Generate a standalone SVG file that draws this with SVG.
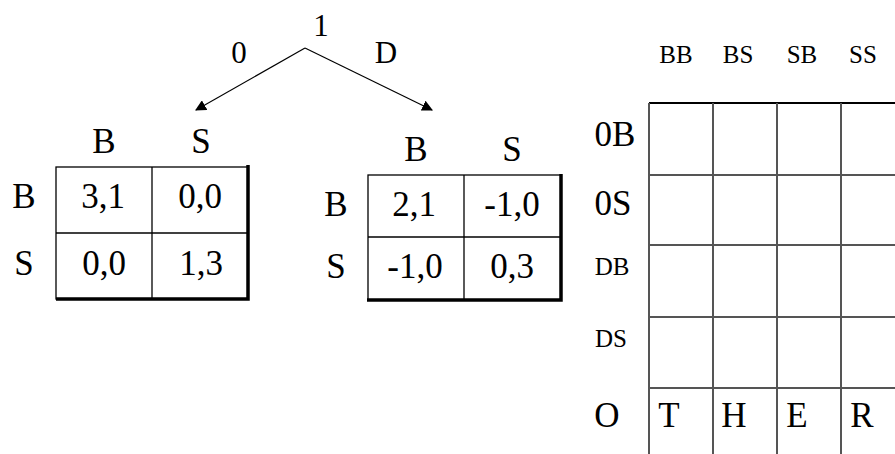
<svg xmlns="http://www.w3.org/2000/svg" width="895" height="454" viewBox="0 0 895 454" font-family="'Liberation Serif', 'Times New Roman', Times, serif">
  <defs>
    <marker id="tip" viewBox="0 0 10 10" refX="9" refY="5" markerWidth="11" markerHeight="11" markerUnits="userSpaceOnUse" orient="auto">
      <path d="M0,0 L10,5 L0,10 z" fill="#000"/>
    </marker>
  </defs>
  <style>
    .lbl { font-size: 31px; text-anchor: middle; }
    .big { font-size: 35px; text-anchor: middle; }
    .sm { font-size: 25px; text-anchor: middle; }
    .thin { fill: none; stroke: #000; stroke-width: 1.3; }
    .heavy { fill: none; stroke: #000; stroke-width: 3.5; }
    .grid { fill: none; stroke: #555; stroke-width: 2; }
    .edge { fill: none; stroke: #000; stroke-width: 1.2; }
  </style>
  <rect width="895" height="454" fill="#fff"/>

  <!-- game tree root and its branches -->
  <g id="root">
    <text class="lbl" x="321" y="36">1</text>
    <text class="lbl" x="239" y="63">0</text>
    <text class="lbl" x="386" y="63">D</text>
  </g>
  <g id="connectors">
    <line class="edge" x1="305" y1="48" x2="196" y2="110" marker-end="url(#tip)"/>
    <line class="edge" x1="305" y1="48" x2="432" y2="110" marker-end="url(#tip)"/>
  </g>

  <!-- payoff matrix after 0 -->
  <g id="matrix0">
    <text class="big" x="104" y="153">B</text>
    <text class="big" x="201" y="153">S</text>
    <text class="big" x="24" y="208">B</text>
    <text class="big" x="24" y="275">S</text>
    <rect class="thin" x="56" y="167" width="192" height="132"/>
    <line class="thin" x1="152" y1="167" x2="152" y2="299"/>
    <line class="thin" x1="56" y1="233" x2="248" y2="233"/>
    <polyline class="heavy" points="248,165 248,299 56,299"/>
    <text class="big" x="103" y="208">3,1</text>
    <text class="big" x="200" y="208">0,0</text>
    <text class="big" x="104" y="275">0,0</text>
    <text class="big" x="201" y="275">1,3</text>
  </g>

  <!-- payoff matrix after D -->
  <g id="matrixD">
    <text class="big" x="416" y="161">B</text>
    <text class="big" x="512" y="161">S</text>
    <text class="big" x="336" y="216">B</text>
    <text class="big" x="336" y="278">S</text>
    <rect class="thin" x="368" y="175" width="193" height="125"/>
    <line class="thin" x1="464" y1="175" x2="464" y2="300"/>
    <line class="thin" x1="368" y1="237" x2="561" y2="237"/>
    <polyline class="heavy" points="561,174 561,300 367,300"/>
    <text class="big" x="414" y="216">2,1</text>
    <text class="big" x="512" y="216">-1,0</text>
    <text class="big" x="415" y="278">-1,0</text>
    <text class="big" x="512" y="278">0,3</text>
  </g>

  <!-- strategic form grid -->
  <g id="strategy-grid">
    <text class="sm" x="676" y="63">BB</text>
    <text class="sm" x="738" y="63">BS</text>
    <text class="sm" x="802" y="63">SB</text>
    <text class="sm" x="863" y="63">SS</text>
    <line x1="649" y1="103" x2="895" y2="103" stroke="#000" stroke-width="2"/>
    <line class="grid" x1="649" y1="175" x2="895" y2="175"/>
    <line class="grid" x1="649" y1="245" x2="895" y2="245"/>
    <line class="grid" x1="649" y1="317" x2="895" y2="317"/>
    <line class="grid" x1="649" y1="388" x2="895" y2="388"/>
    <line class="grid" x1="649" y1="103" x2="649" y2="454"/>
    <line class="grid" x1="713" y1="103" x2="713" y2="454"/>
    <line class="grid" x1="777" y1="103" x2="777" y2="454"/>
    <line class="grid" x1="841" y1="103" x2="841" y2="454"/>
    <text class="big" x="615" y="146">0B</text>
    <text class="big" x="613" y="215">0S</text>
    <text class="sm" x="612" y="275">DB</text>
    <text class="sm" x="611" y="347">DS</text>
    <text class="big" x="607" y="427">O</text>
    <text class="big" x="669" y="427">T</text>
    <text class="big" x="734" y="427">H</text>
    <text class="big" x="797" y="427">E</text>
    <text class="big" x="862" y="427">R</text>
  </g>
</svg>
